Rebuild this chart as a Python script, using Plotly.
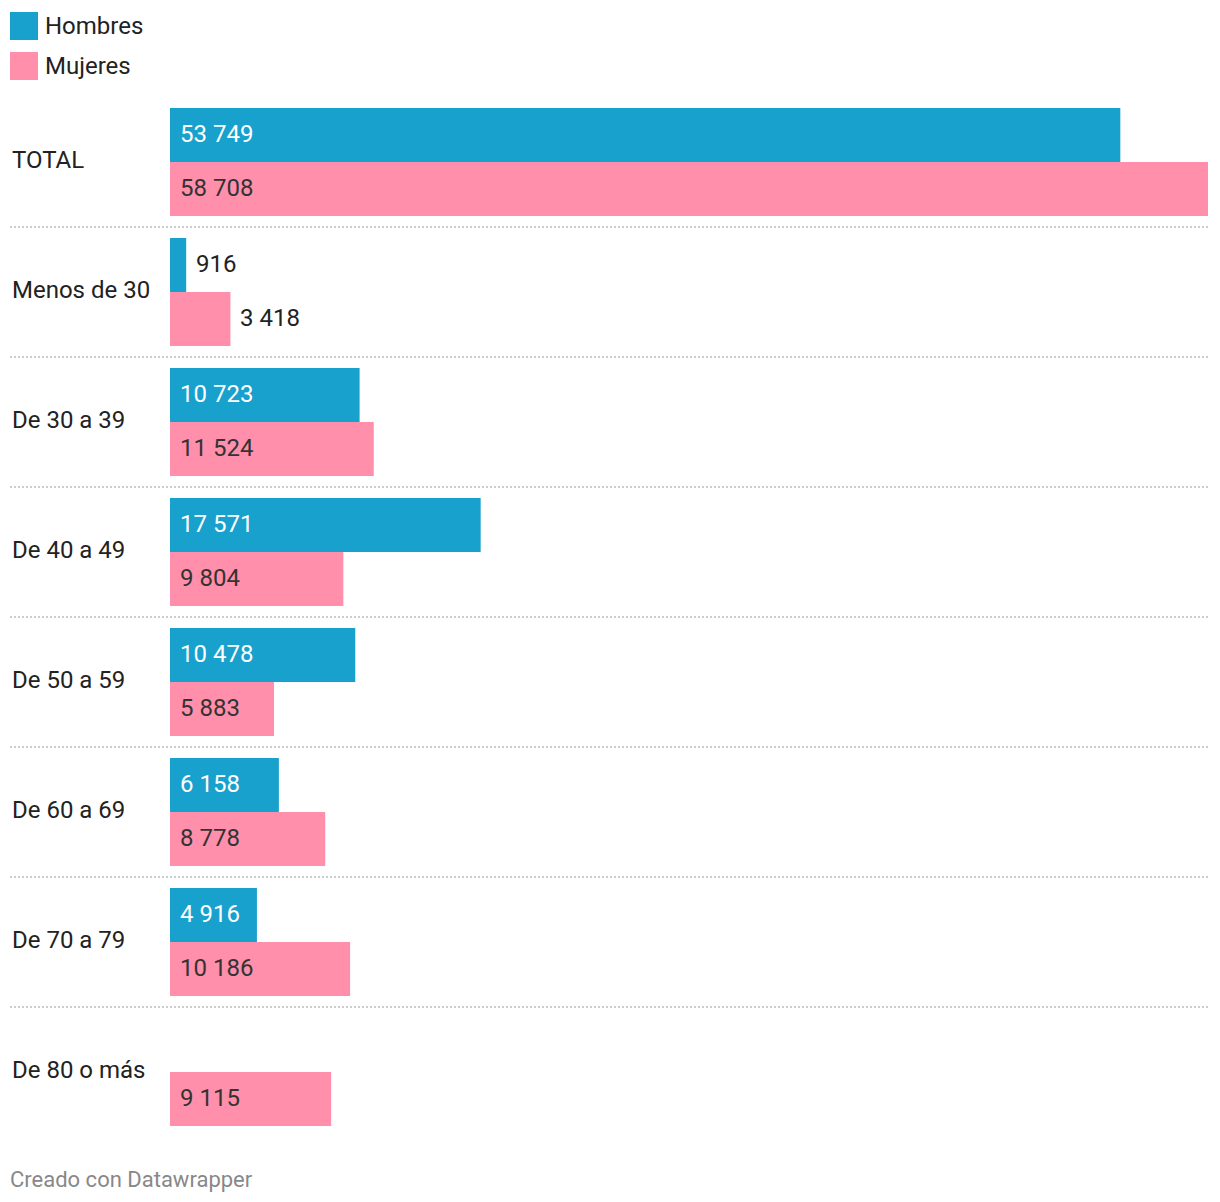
import plotly.graph_objects as go

categories = ["TOTAL", "Menos de 30", "De 30 a 39", "De 40 a 49", "De 50 a 59",
              "De 60 a 69", "De 70 a 79", "De 80 o más"]
hombres = [53749, 916, 10723, 17571, 10478, 6158, 4916, None]
mujeres = [58708, 3418, 11524, 9804, 5883, 8778, 10186, 9115]
series_names = ["Hombres", "Mujeres"]

BLUE = "#18a1cd"
PINK = "#ff8fab"
W, H = 1220, 1202
ML, MR, MT, MB = 170, 12, 97, 65
PW, PH = W - ML - MR, H - MT - MB
FONT = "Roboto"
FS = 24
PAD = 2  # annotation inner padding to compensate


def px_x(px):
    return (px - ML - PAD) / PW


def px_y(py):
    return 1 - (py - MT) / PH


def fmt(v):
    return f"{v:,}".replace(",", " ")


fig = go.Figure()
fig.add_trace(go.Bar(y=categories, x=hombres, orientation="h", name=series_names[0],
                     marker=dict(color=BLUE, line=dict(width=0)), hoverinfo="skip"))
fig.add_trace(go.Bar(y=categories, x=mujeres, orientation="h", name=series_names[1],
                     marker=dict(color=PINK, line=dict(width=0)), hoverinfo="skip"))

xmax = max(max(v for v in hombres if v is not None), max(mujeres))
annotations = []
shapes = []

# value labels
for vals, shift, in_color in ((hombres, 28, "#ffffff"), (mujeres, -26, "#333333")):
    for cat, v in zip(categories, vals):
        if v is None:
            continue
        bar_px = v / xmax * PW
        inside = bar_px > 85
        annotations.append(dict(
            x=0 if inside else v, y=cat, xref="x", yref="y",
            text=fmt(v), showarrow=False, xanchor="left", yanchor="middle",
            xshift=10 - PAD, yshift=shift,
            font=dict(family=FONT, size=FS, color=in_color if inside else "#222222")))

# category labels
for cat in categories:
    annotations.append(dict(x=px_x(12), y=cat, xref="paper", yref="y", text=cat,
                            showarrow=False, xanchor="left", yanchor="middle", yshift=2,
                            font=dict(family=FONT, size=FS, color="#222222")))

# separators
for i in range(len(categories) - 1):
    shapes.append(dict(type="line", xref="paper", yref="y", x0=(10 - ML) / PW, x1=1,
                       y0=i + 0.5, y1=i + 0.5,
                       line=dict(color="#cccccc", width=2, dash="2px,2px")))

# legend
for j, (name, col) in enumerate(zip(series_names, [BLUE, PINK])):
    top = 12 + 40 * j
    shapes.append(dict(type="rect", xref="paper", yref="paper",
                       x0=(10 - ML) / PW, x1=(38 - ML) / PW, y0=px_y(top + 28), y1=px_y(top),
                       fillcolor=col, line=dict(width=0)))
    annotations.append(dict(x=px_x(45), y=px_y(top + 14), xref="paper", yref="paper",
                            text=name, showarrow=False, xanchor="left", yanchor="middle",
                            font=dict(family=FONT, size=FS, color="#222222")))

# footer
annotations.append(dict(x=px_x(10), y=px_y(1179), xref="paper", yref="paper",
                        text="Creado con Datawrapper", showarrow=False,
                        xanchor="left", yanchor="middle",
                        font=dict(family=FONT, size=22, color="#888888")))

fig.update_layout(
    width=W, height=H, margin=dict(l=ML, r=MR, t=MT, b=MB),
    paper_bgcolor="white", plot_bgcolor="white",
    barmode="group", bargap=22 / 130, bargroupgap=0,
    showlegend=False,
    xaxis=dict(range=[0, xmax], visible=False, fixedrange=True),
    yaxis=dict(autorange="reversed", visible=False, fixedrange=True),
    annotations=annotations, shapes=shapes,
    font=dict(family=FONT),
)

fig.write_html("out.html", config={"displayModeBar": False},
               post_script="document.body.style.margin='0';")
